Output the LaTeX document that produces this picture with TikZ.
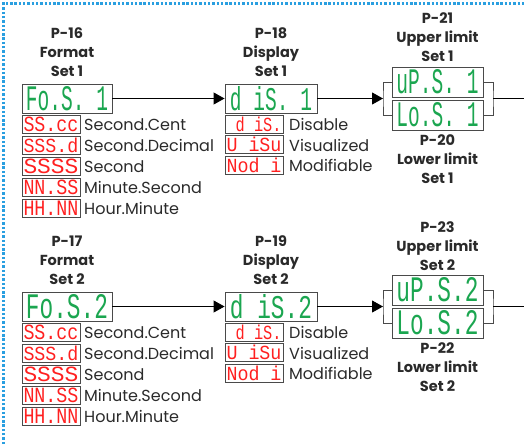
\documentclass[tikz,border=0pt]{standalone}
\usepackage{fontspec}
\usepackage{graphicx}
\setmainfont{Poppins}
\newfontfamily\segfont{Liberation Mono}
\usetikzlibrary{arrows.meta}
\definecolor{segG}{HTML}{1BA650}
\definecolor{segR}{HTML}{FF2020}
\definecolor{dotB}{HTML}{2A9FE0}
\definecolor{txt}{HTML}{2A2A2A}
\definecolor{frm}{HTML}{4A4A4A}
\newcommand\gseg[1]{\textcolor{segG}{\resizebox{82pt}{24pt}{\segfont #1}}}
\newcommand\rseg[1]{\textcolor{segR}{\resizebox{55pt}{14.5pt}{\segfont #1}}}
\tikzset{
 dispbox/.style={draw=frm, line width=0.9pt, fill=white, minimum width=90pt, minimum height=29pt, inner sep=0pt},
 codebox/.style={draw=frm, line width=0.8pt, minimum width=58pt, minimum height=18pt, inner sep=0pt},
 lbl/.style={anchor=base west, font=\fontsize{16}{18}\selectfont, text=txt, inner sep=0pt},
 ttl/.style={anchor=base, align=center, font=\fontsize{14.5}{19}\selectfont\bfseries, text=txt, inner sep=0pt},
 flow/.style={draw=black, line width=0.9pt},
 arr/.style={flow, -{Triangle[length=11pt,width=12pt]}},
 brk/.style={draw=frm, line width=0.9pt},
}
\begin{document}
\begin{tikzpicture}[x=1pt,y=-1pt]
\useasboundingbox (0,0) rectangle (524,444);
\draw[dotB, line width=2.6pt, dash pattern=on 2.4pt off 1.9pt] (3.5,444) -- (3.5,3.5) -- (524,3.5);
\foreach \r/\off/\pa/\pb/\pc/\pd/\s/\sd in {a/0/16/18/21/20/1/{\ 1}, b/208/17/19/23/22/2/2} {
  % format column
  \node[ttl] (tf\r) at (67,76.5+\off) {P-\pa\\Format\\Set \s};
  \node[dispbox] (fmt\r) at (67,98.5+\off) {\gseg{Fo.S.\sd}};
  \foreach \i/\c/\t in {0/SS.cc/Second.Cent, 1/SSS.d/Second.Decimal, 2/SSSS/Second, 3/NN.SS/Minute.Second, 4/HH.NN/Hour.Minute} {
    \node[codebox] (fc\r\i) at (51,124+21*\i+\off) {\rseg{\c}};
    \node[lbl] (fl\r\i) at (84,130.5+21*\i+\off) {\t};
  }
  % display column
  \node[ttl] (td\r) at (271,76.5+\off) {P-\pb\\Display\\Set \s};
  \node[dispbox, minimum width=92pt] (dsp\r) at (271,98.5+\off) {\gseg{d iS.\sd}};
  \foreach \i/\c/\t in {0/{\ d iS.}/Disable, 1/U iSu/Visualized, 2/Nod i/Modifiable} {
    \node[codebox] (dc\r\i) at (254,124+20.7*\i+\off) {\rseg{\c}};
    \node[lbl] (dl\r\i) at (289,130.5+20.7*\i+\off) {\t};
  }
  % limits
  \node[ttl] (tu\r) at (437.5,62+\off) {P-\pc\\Upper limit\\Set \s};
  \node[dispbox, minimum width=91pt, minimum height=30pt] (up\r) at (437.5,82+\off) {\gseg{uP.S.\sd}};
  \node[dispbox, minimum width=91pt, minimum height=30pt] (lo\r) at (437.5,115+\off) {\gseg{Lo.S.\sd}};
  \node[ttl] (tl\r) at (437.5,183+\off) {P-\pd\\Lower limit\\Set \s};
  \coordinate (bl\r) at (383,98.5+\off);
  \coordinate (br\r) at (493,98.5+\off);
  \coordinate (end\r) at (524,98.5+\off);
  \draw[brk] (up\r.west) -| (bl\r) |- (lo\r.west);
  \draw[brk] (up\r.east) -| (br\r) |- (lo\r.east);
  \draw[arr] (fmt\r.east) -- (dsp\r.west);
  \draw[arr] (dsp\r.east) -- (bl\r);
  \draw[flow] (br\r) -- (end\r);
}
\end{tikzpicture}
\end{document}
